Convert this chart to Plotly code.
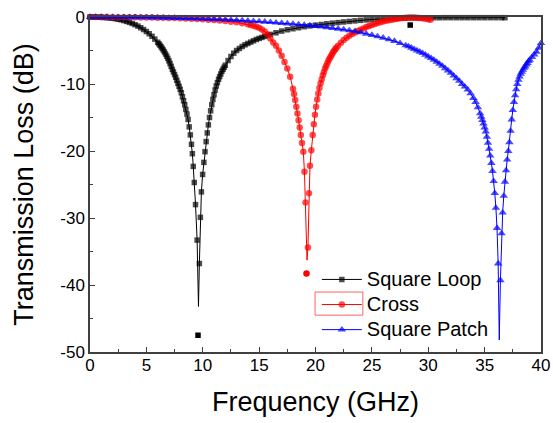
import plotly.graph_objects as go

# ---------------- data ----------------
loop_f = [0, 0.25, 0.5, 0.75, 1, 1.25, 1.5, 1.75, 2, 2.25, 2.5, 2.75, 3, 3.25, 3.5, 3.75,
          4, 4.25, 4.5, 4.75, 5, 5.25, 5.5, 5.75, 6,
          6.1, 6.2, 6.3, 6.4, 6.5, 6.6, 6.7, 6.8, 6.9, 7.0, 7.1, 7.2, 7.3, 7.4, 7.5, 7.6, 7.7,
          7.8, 7.9, 8.0, 8.1, 8.2, 8.3, 8.4, 8.5, 8.6, 8.7, 8.8, 8.9, 9.0, 9.08, 9.16, 9.25,
          9.36, 9.5, 9.62, 9.7, 9.79, 9.88, 9.99, 10.1, 10.2, 10.3, 10.4, 10.5, 10.6, 10.7,
          10.8, 10.9, 11.0, 11.1, 11.2, 11.3, 11.4, 11.5, 11.6, 11.7, 11.8, 11.9, 12.0,
          12.25, 12.5, 12.75, 13, 13.25, 13.5, 13.75, 14, 14.25, 14.5, 14.75, 15, 15.25, 15.5,
          15.75, 16, 16.5, 17, 17.5, 18, 18.5, 19, 19.5, 20, 20.5, 21, 21.5, 22, 22.5, 23,
          23.5, 24, 24.5, 25, 25.5, 26, 26.5, 27, 27.5, 28, 28.5, 29, 29.5, 30, 30.5, 31,
          31.5, 32, 32.5, 33, 33.5, 34, 34.5, 35, 35.5, 36, 36.5, 36.8]
loop_db = [0, -0.01, -0.02, -0.03, -0.05, -0.07, -0.1, -0.14, -0.19, -0.25, -0.33, -0.42,
           -0.53, -0.66, -0.8, -0.97, -1.15, -1.36, -1.6, -1.87, -2.17, -2.5, -2.88, -3.3, -3.77,
           -3.98, -4.2, -4.43, -4.68, -4.94, -5.22, -5.52, -5.84, -6.18, -6.55, -6.95, -7.37,
           -7.82, -8.2, -8.6, -9.0, -9.45, -9.9, -10.35, -10.8, -11.3, -11.9, -12.5, -13.1,
           -13.8, -14.5, -15.3, -16.4, -17.6, -19.0, -20.4, -22.3, -24.7, -28.0, -33.3, -43.2,
           -36.8, -29.9, -26.1, -23.5, -21.7, -20.1, -18.6, -17.3, -16.1, -15.0, -14.0, -13.1,
           -12.3, -11.6, -10.9, -10.3, -9.8, -9.3, -8.9, -8.5, -8.1, -7.8, -7.5, -7.2,
           -6.5, -5.9, -5.4, -5.0, -4.7, -4.4, -4.15, -3.95, -3.75, -3.55, -3.35, -3.2, -3.05,
           -2.9, -2.75, -2.6, -2.35, -2.1, -1.9, -1.75, -1.6, -1.45, -1.33, -1.22, -1.12, -1.02,
           -0.92, -0.83, -0.74, -0.66, -0.58, -0.5, -0.43, -0.37, -0.31, -0.26, -0.22, -0.19,
           -0.17, -0.15, -0.14, -0.13, -0.12, -0.12, -0.11, -0.11, -0.1, -0.1, -0.1, -0.1,
           -0.1, -0.1, -0.1, -0.1, -0.1, -0.1, -0.1, -0.1]
loop_extra_f = [9.58, 28.4]
loop_extra_db = [-47.5, -1.2]

cross_f = [0, 0.5, 1, 1.5, 2, 2.5, 3, 3.5, 4, 4.5, 5, 5.5, 6, 6.5, 7, 7.5, 8, 8.5, 9, 9.5,
           10, 10.5, 11, 11.5, 12, 12.5, 13, 13.5, 14, 14.25, 14.5, 14.75, 15, 15.25, 15.5,
           15.75, 16, 16.25, 16.5, 16.75, 17, 17.25, 17.5, 17.75, 18, 18.1, 18.2, 18.3, 18.4,
           18.5, 18.6, 18.7, 18.8, 18.92, 19.02, 19.12, 19.25, 19.33, 19.42, 19.51, 19.63,
           19.75, 19.85, 19.95, 20.05, 20.15, 20.25, 20.35, 20.45, 20.55, 20.65, 20.75, 20.85,
           20.95, 21.05, 21.15, 21.25, 21.35, 21.45, 21.55, 21.65, 21.75, 21.85, 22.0, 22.25,
           22.5, 22.75, 23, 23.25, 23.5, 23.75, 24, 24.25, 24.5, 24.75, 25, 25.25, 25.5, 25.75,
           26, 26.25, 26.5, 26.75, 27, 27.25, 27.5, 27.75, 28, 28.25, 28.5, 28.75, 29, 29.25,
           29.5, 29.75, 30, 30.2]
cross_db = [0, 0, -0.01, -0.01, -0.02, -0.02, -0.03, -0.04, -0.05, -0.06, -0.07, -0.08, -0.1,
            -0.12, -0.14, -0.16, -0.19, -0.22, -0.26, -0.3, -0.35, -0.4, -0.45, -0.52, -0.6,
            -0.7, -0.8, -0.95, -1.1, -1.2, -1.32, -1.45, -1.6, -1.85, -2.15, -2.6, -3.2, -3.8,
            -4.3, -5.0, -5.8, -6.7, -7.7, -8.9, -10.7, -11.5, -12.4, -13.4, -14.4, -15.4,
            -16.5, -17.6, -18.8, -20.1, -23.1, -27.7, -36.3, -34.4, -26.3, -22.2, -19.9,
            -17.6, -16.0, -14.6, -13.4, -12.3, -11.4, -10.6, -9.9, -9.3, -8.7, -8.2, -7.7,
            -7.3, -6.9, -6.5, -6.2, -5.9, -5.6, -5.3, -5.05, -4.8, -4.6, -4.3, -3.85,
            -3.45, -3.1, -2.8, -2.55, -2.3, -2.1, -1.9, -1.7, -1.5, -1.35, -1.2, -1.05, -0.9,
            -0.78, -0.67, -0.57, -0.48, -0.4, -0.32, -0.25, -0.19, -0.14, -0.1, -0.08, -0.07,
            -0.08, -0.1, -0.14, -0.2, -0.27, -0.35, -0.42]
cross_extra_f = [19.2]
cross_extra_db = [-38.3]

patch_f = [0, 0.5, 1, 1.5, 2, 2.5, 3, 3.5, 4, 4.5, 5, 5.5, 6, 6.5, 7, 7.5, 8, 8.5, 9, 9.5,
           10, 10.5, 11, 11.5, 12, 12.5, 13, 13.5, 14, 14.5, 15, 15.5, 16, 16.5, 17, 17.5,
           18, 18.5, 19, 19.5, 20, 20.5, 21, 21.5, 22, 22.5, 23, 23.5, 24, 24.5, 25, 25.5,
           26, 26.5, 27, 27.5, 28, 28.25, 28.5, 28.75, 29, 29.25, 29.5, 29.75, 30, 30.25,
           30.5, 30.75, 31, 31.25, 31.5, 31.75, 32, 32.25, 32.5, 32.75, 33, 33.25, 33.5,
           33.75, 34, 34.2, 34.4, 34.6, 34.7, 34.8, 34.9, 35.0, 35.1, 35.2, 35.3, 35.4, 35.5,
           35.6, 35.7, 35.8, 35.9, 36.0, 36.1, 36.2, 36.3, 36.4, 36.5, 36.6, 36.7, 36.8, 36.9,
           37.0, 37.1, 37.2, 37.3, 37.4, 37.5, 37.6, 37.7, 37.8, 37.9, 38.0, 38.1, 38.2, 38.3,
           38.4, 38.5, 38.6, 38.7, 38.8, 38.9, 39.0, 39.2, 39.4, 39.6, 39.8, 40.0]
patch_db = [0, 0, 0, -0.01, -0.01, -0.02, -0.03, -0.04, -0.05, -0.06, -0.07, -0.09, -0.1,
            -0.12, -0.14, -0.16, -0.18, -0.2, -0.22, -0.25, -0.28, -0.31, -0.34, -0.37, -0.4,
            -0.44, -0.48, -0.52, -0.57, -0.62, -0.67, -0.72, -0.78, -0.84, -0.9, -0.97, -1.04,
            -1.11, -1.19, -1.27, -1.36, -1.45, -1.55, -1.65, -1.76, -1.88, -2.0, -2.14, -2.3,
            -2.5, -2.7, -2.9, -3.1, -3.35, -3.6, -3.9, -4.25, -4.4, -4.6, -4.8, -5.0,
            -5.2, -5.4, -5.65, -5.9, -6.15, -6.4, -6.7, -7.0, -7.3, -7.65, -8.0, -8.35, -8.75,
            -9.15, -9.55, -10.0, -10.4, -10.85, -11.4, -12.1, -12.7, -13.5, -14.4,
            -14.9, -15.4, -15.9, -16.5, -17.1, -17.9, -18.8, -19.7, -20.7, -21.8, -23.0, -24.5,
            -26.3, -28.5, -31.5, -36.8, -48.2, -39.3, -32.3, -29.2, -26.7, -24.6, -22.9, -21.3,
            -20.0, -18.7, -17.0, -15.3, -13.9, -12.7, -11.7, -10.8, -10.0, -9.4, -8.9, -8.5,
            -8.2, -7.9, -7.6, -7.4, -7.1, -6.9, -6.6, -6.4, -6.0, -5.6, -5.2, -4.6, -3.9]

series_names = ["Square Loop", "Cross", "Square Patch"]
x_ticks = [0, 5, 10, 15, 20, 25, 30, 35, 40]
y_ticks = [0, -10, -20, -30, -40, -50]

# ---------------- figure ----------------
FONT = "Liberation Sans, Arial, sans-serif"


def sizes(vals, base):
    # the deepest point of each resonance is drawn as line only
    tip = vals.index(min(vals))
    return [0 if i == tip else base for i in range(len(vals))]


def legend_label(text):
    # larger legend text while keeping the compact row spacing
    return "<span style='font-size:20px'>" + text + "</span>"


fig = go.Figure()
specs = [
    (loop_f, loop_db, series_names[0], "#000000", "square", 5.5),
    (cross_f, cross_db, series_names[1], "#ff0000", "circle", 6.5),
    (patch_f, patch_db, series_names[2], "#0000ff", "triangle-up", 7.5),
]
for fx, fy, name, col, sym, ms in specs:
    fig.add_trace(go.Scatter(
        x=fx, y=fy, name=legend_label(name), mode="lines+markers",
        line=dict(color=col, width=1),
        marker=dict(color=col, symbol=sym, size=sizes(fy, ms), line=dict(width=0)),
        cliponaxis=False,
    ))

fig.add_trace(go.Scatter(x=loop_extra_f, y=loop_extra_db, mode="markers", showlegend=False,
                         marker=dict(color="#000000", symbol="square", size=5.5),
                         cliponaxis=False))
fig.add_trace(go.Scatter(x=cross_extra_f, y=cross_extra_db, mode="markers", showlegend=False,
                         marker=dict(color="#ff0000", symbol="circle", size=6.5),
                         cliponaxis=False))

axis_common = dict(
    showgrid=False, zeroline=False, showline=True, linecolor="#404040", linewidth=1.5,
    mirror=True, ticks="inside", ticklen=5, tickwidth=1.2, tickcolor="#404040",
    tickfont=dict(family=FONT, size=17, color="#000000"), automargin=False,
)

fig.update_xaxes(
    range=[0, 40], tickvals=x_ticks, ticktext=[str(v) for v in x_ticks],
    minor=dict(ticks="inside", ticklen=3, dtick=2.5, tick0=0, tickcolor="#404040"),
    ticklabelstandoff=-3,
    title=dict(text="Frequency (GHz)", font=dict(family=FONT, size=27, color="#000000"),
               standoff=18),
    **axis_common,
)
fig.update_yaxes(
    range=[-50, 0], tickvals=y_ticks, ticktext=[str(v) for v in y_ticks],
    minor=dict(ticks="inside", ticklen=3, dtick=5, tick0=0, tickcolor="#404040"),
    title=dict(text="Transmission Loss (dB)", font=dict(family=FONT, size=27, color="#000000"),
               standoff=19),
    **axis_common,
)

fig.update_layout(
    width=553, height=423,
    margin=dict(l=90, r=12, t=17, b=71),
    plot_bgcolor="white", paper_bgcolor="white",
    showlegend=True,
    legend=dict(x=0.503, y=0.269, xanchor="left", yanchor="top",
                bgcolor="rgba(0,0,0,0)", borderwidth=0,
                font=dict(family=FONT, size=17, color="#000000"),
                tracegroupgap=0, itemwidth=40),
    shapes=[dict(type="rect", xref="paper", yref="paper",
                 x0=0.499, x1=0.605, y0=0.110, y1=0.179,
                 line=dict(color="rgba(255,60,60,0.8)", width=1))],
)

fig.write_html("out.html")
